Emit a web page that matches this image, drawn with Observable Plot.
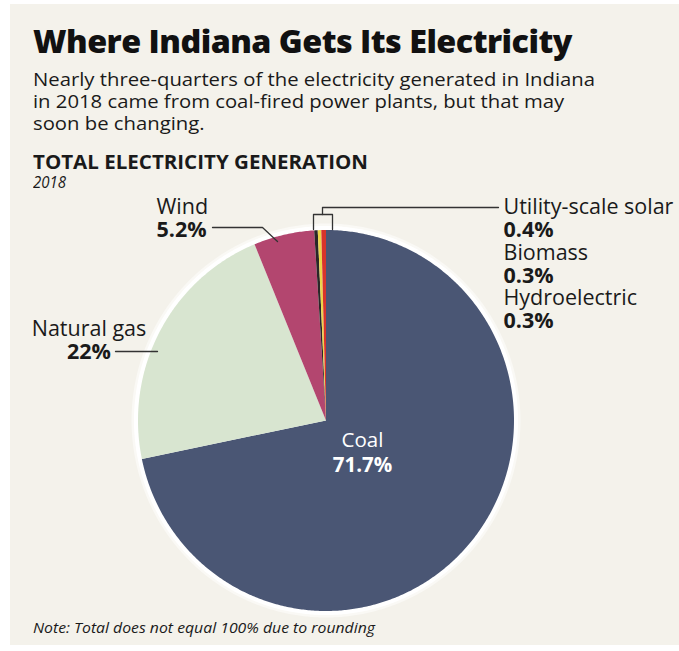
<!DOCTYPE html>
<html>
<head>
<meta charset="utf-8">
<script src="https://cdn.jsdelivr.net/npm/d3@7"></script>
<script src="https://cdn.jsdelivr.net/npm/@observablehq/plot@0.6"></script>
<style>
html, body { margin: 0; padding: 0; background: #ffffff; }
body { width: 679px; height: 651px; position: relative; overflow: hidden; font-family: "Open Sans", sans-serif; color: #1a1a1a; }
#panel { position: absolute; left: 10px; top: 4px; width: 669px; height: 641px; background: #f4f2eb; }
.t { position: absolute; left: 33px; top: 0; white-space: nowrap; transform-origin: 0 0; display: inline-block; line-height: 1; }
#title { font-size: 31.5px; font-weight: 800; letter-spacing: -0.5px; color: #111; }
.sub { font-size: 18.5px; font-weight: 400; }
#head { font-size: 19px; font-weight: 700; }
#year { font-size: 16px; font-style: italic; }
#note { font-size: 15px; font-style: italic; }
#chart { position: absolute; left: 0; top: 190px; }
</style>
</head>
<body>
<div id="panel"></div>
<div class="t" id="title">Where Indiana Gets Its Electricity</div>
<div class="t sub" id="sub1">Nearly three-quarters of the electricity generated in Indiana</div>
<div class="t sub" id="sub2">in 2018 came from coal-fired power plants, but that may</div>
<div class="t sub" id="sub3">soon be changing.</div>
<div class="t" id="head">TOTAL ELECTRICITY GENERATION</div>
<div class="t" id="year">2018</div>
<div id="chart"></div>
<div class="t" id="note">Note: Total does not equal 100% due to rounding</div>
<script>
// ---- data ----
const sources = ["Coal", "Natural gas", "Wind", "Hydroelectric", "Biomass", "Utility-scale solar"];
const shares = [71.7, 22, 5.2, 0.3, 0.3, 0.4];
const sliceColors = ["#4a5674", "#d8e5d0", "#b3466f", "#2a2728", "#ecd54a", "#d8342b"];

// ---- layout (page pixels) ----
const W = 679, SVG_TOP = 190, SVG_H = 432;
const pie = { cx: 325.5, cy: 420, rx: 188, ry: 190.5, halo: 4 };
// y = baseline of the value line (last line)
const labelPos = {
  "Wind": { x: 156, y: 236, anchor: "start" },
  "Natural gas": { x: 88.5, y: 358, anchor: "middle" },
  "Utility-scale solar": { x: 503, y: 236, anchor: "start" },
  "Biomass": { x: 503, y: 282, anchor: "start" },
  "Hydroelectric": { x: 503, y: 327.5, anchor: "start" }
};
const leaders = [
  { id: "wind", pts: [[212, 227], [262, 227], [277, 241]] },
  { id: "gas", pts: [[115, 351], [157, 351]] },
  { id: "small", pts: [[498, 207], [322, 207], [322, 214]] },
  { id: "bracket", pts: [[313, 229], [313, 214], [332, 214], [332, 229]] }
];

// ---- geometry from data ----
const total = d3.sum(shares);
let acc = 0;
const slices = sources.map((s, i) => {
  const a0 = acc / total * 2 * Math.PI;
  acc += shares[i];
  const a1 = acc / total * 2 * Math.PI;
  return { source: s, value: shares[i], color: sliceColors[i], a0, a1 };
});
function arcPoints(a0, a1, grow, withCenter) {
  const n = Math.max(2, Math.ceil((a1 - a0) / (Math.PI / 360)));
  const pts = withCenter ? [{ x: pie.cx, y: pie.cy }] : [];
  for (let k = 0; k <= n; k++) {
    const a = a0 + (a1 - a0) * k / n;
    pts.push({ x: pie.cx + (pie.rx + grow) * Math.sin(a), y: pie.cy - (pie.ry + grow) * Math.cos(a) });
  }
  if (withCenter) pts.push({ x: pie.cx, y: pie.cy });
  return pts;
}
const haloPts = arcPoints(0, 2 * Math.PI, pie.halo, false);

const fmt = v => v + "%";
const labelRows = slices.filter(d => labelPos[d.source]).map(d => ({
  label: d.source + "\n" + fmt(d.value), ...labelPos[d.source]
}));
const coal = slices[0];
const coalMid = (coal.a0 + coal.a1) / 2;
const coalLabel = [{
  label: coal.source + "\n" + fmt(coal.value),
  x: pie.cx + pie.rx * 0.25 * Math.sin(coalMid),
  y: pie.cy - pie.ry * 0.25 * Math.cos(coalMid)
}];
const leaderPts = leaders.flatMap(l => l.pts.map(p => ({ id: l.id, x: p[0], y: p[1] })));

const marks = [
  Plot.line(haloPts, { x: "x", y: "y", fill: "#ffffff", stroke: "#ffffff", strokeWidth: 5, strokeOpacity: 0.5 }),
  ...slices.map(s => Plot.line(arcPoints(s.a0, s.a1, 0, true), { x: "x", y: "y", fill: s.color, stroke: "none" })),
  Plot.line(leaderPts, { x: "x", y: "y", z: "id", stroke: "#333333", strokeWidth: 1.3 }),
  ...["start", "middle"].map(anchor =>
    Plot.text(labelRows.filter(d => d.anchor === anchor), { x: "x", y: "y", text: "label", textAnchor: anchor, lineAnchor: "bottom", lineHeight: 1.05, fontSize: 21.5, fill: "#1a1a1a", fontFamily: "Open Sans" })
  ),
  Plot.text(coalLabel, { x: "x", y: "y", text: "label", dy: 21, lineAnchor: "bottom", lineHeight: 1.18, fontSize: 20.5, fill: "#ffffff", fontFamily: "Open Sans" })
];

const chart = Plot.plot({
  width: W, height: SVG_H,
  margin: 0,
  x: { domain: [0, W], axis: null },
  y: { domain: [SVG_TOP + SVG_H, SVG_TOP], axis: null },
  style: { background: "none", overflow: "visible" },
  marks
});
chart.style.background = "none";
// percentages are set in bold, as in the reference
chart.querySelectorAll("text tspan").forEach(t => { if (/%$/.test(t.textContent)) t.setAttribute("font-weight", "700"); });
document.getElementById("chart").appendChild(chart);

// ---- text placement (baseline + width fit) ----
function baselineOf(el) {
  el.style.top = "0px";
  const m = document.createElement("span");
  m.style.cssText = "display:inline-block;width:0;height:0;vertical-align:baseline";
  el.appendChild(m);
  const b = m.getBoundingClientRect().top - el.getBoundingClientRect().top;
  el.removeChild(m);
  return b;
}
function place(id, baseline, targetW, scale) {
  const el = document.getElementById(id);
  el.style.transform = "none";
  const b = baselineOf(el);
  el.style.top = (baseline - b) + "px";
  const w = el.getBoundingClientRect().width;
  const s = scale != null ? scale : (targetW ? targetW / w : 1);
  el.style.transform = `scaleX(${s})`;
  return s;
}
function layoutText() {
  place("title", 53, 539);
  const s = place("sub1", 86, 562);
  place("sub2", 108, null, s);
  place("sub3", 129.5, null, s);
  place("head", 169, 335);
  place("year", 188, 33);
  place("note", 633, 342);
}
layoutText();
if (document.fonts && document.fonts.ready) document.fonts.ready.then(layoutText);
</script>
</body>
</html>
